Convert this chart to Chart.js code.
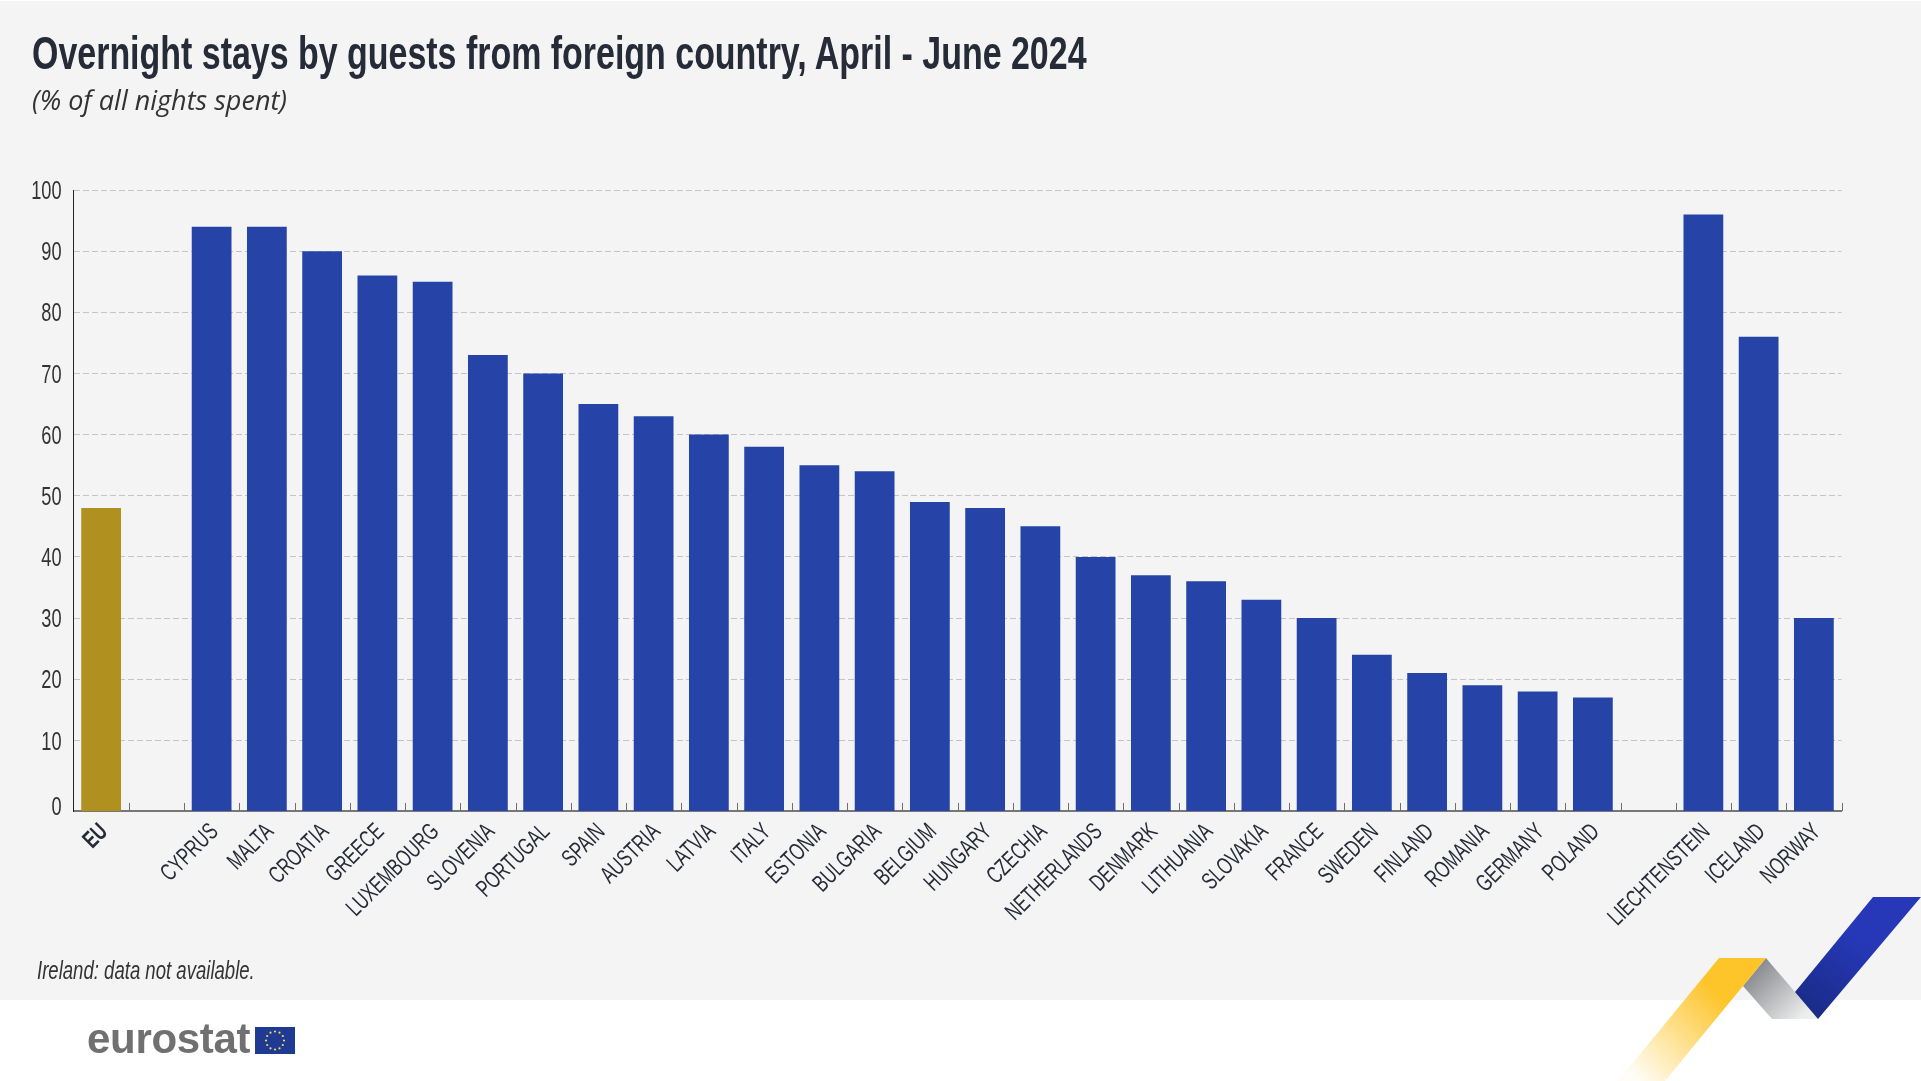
<!DOCTYPE html>
<html>
<head>
<meta charset="utf-8">
<title>Overnight stays by guests from foreign country</title>
<script src="https://cdn.jsdelivr.net/npm/chart.js@4"></script>
<style>
  html, body { margin: 0; padding: 0; background: #fff; }
  #page { position: relative; width: 1921px; height: 1081px; overflow: hidden; background: #fff; }
  #band { position: absolute; left: 0; top: 1px; width: 1921px; height: 999px; background: #f4f4f4; }
  #deco { position: absolute; left: 0; top: 0; }
  #chart { position: absolute; left: 0; top: 0; display: block; }
  .txt { position: absolute; white-space: nowrap; color: #262b38; transform-origin: left top; }
  #title { left: 32px; top: 26px; font: bold 46px "Liberation Sans", sans-serif; transform: scaleX(0.738); }
  #subtitle { left: 32px; top: 81px; font: italic 27px "Open Sans", sans-serif; color: #333; }
  #note { left: 37px; top: 955px; font: italic 26px "Liberation Sans", sans-serif; color: #333; transform: scaleX(0.714); }
  #logo { left: 87px; top: 1015px; font: bold 42px "Liberation Sans", sans-serif; color: #707070; letter-spacing: -0.3px; }
</style>
</head>
<body>
<div id="page">
  <div id="band"></div>
  <svg id="deco" width="1921" height="1081">
    <defs>
      <linearGradient id="gradYellow" x1="1750" y1="970" x2="1640" y2="1081" gradientUnits="userSpaceOnUse">
        <stop offset="0.25" stop-color="#fdc52a"/>
        <stop offset="1" stop-color="#fdc52a" stop-opacity="0.05"/>
      </linearGradient>
      <linearGradient id="gradGrey" x1="1750" y1="970" x2="1800" y2="1019" gradientUnits="userSpaceOnUse">
        <stop offset="0" stop-color="#85878c"/>
        <stop offset="1" stop-color="#eceded"/>
      </linearGradient>
      <linearGradient id="gradBlue" x1="1880" y1="900" x2="1800" y2="1019" gradientUnits="userSpaceOnUse">
        <stop offset="0.3" stop-color="#2638b8"/>
        <stop offset="1" stop-color="#182a80"/>
      </linearGradient>
    </defs>
    <polygon points="1766,958 1818,1019 1772,1019 1743,986" fill="url(#gradGrey)"/>
    <polygon points="1719,958 1766,958 1665,1081 1618,1081" fill="url(#gradYellow)"/>
    <polygon points="1873,897 1921,897 1818,1019 1795,992" fill="url(#gradBlue)"/>
    <rect x="255" y="1027" width="40" height="27" fill="#1f3a93"/>
    <g id="stars" fill="#f6d75c"></g>
  </svg>
  <canvas id="chart" width="1921" height="1081"></canvas>
  <div id="title" class="txt">Overnight stays by guests from foreign country, April - June 2024</div>
  <div id="subtitle" class="txt">(% of all nights spent)</div>
  <div id="note" class="txt">Ireland: data not available.</div>
  <div id="logo" class="txt">eurostat</div>
</div>
<script>
// Chart data
const categories = ['EU', '', 'CYPRUS', 'MALTA', 'CROATIA', 'GREECE', 'LUXEMBOURG', 'SLOVENIA', 'PORTUGAL', 'SPAIN',
  'AUSTRIA', 'LATVIA', 'ITALY', 'ESTONIA', 'BULGARIA', 'BELGIUM', 'HUNGARY', 'CZECHIA', 'NETHERLANDS', 'DENMARK',
  'LITHUANIA', 'SLOVAKIA', 'FRANCE', 'SWEDEN', 'FINLAND', 'ROMANIA', 'GERMANY', 'POLAND', '', 'LIECHTENSTEIN',
  'ICELAND', 'NORWAY'];
const overnightShare = [48, null, 94, 94, 90, 86, 85, 73, 70, 65,
  63, 60, 58, 55, 54, 49, 48, 45, 40, 37,
  36, 33, 30, 24, 21, 19, 18, 17, null, 96,
  76, 30];
const yTicks = [0, 10, 20, 30, 40, 50, 60, 70, 80, 90, 100];

const blue = '#2644a7';
const gold = '#b09120';
const labelFont = '"Liberation Sans", sans-serif';
const labelSqueeze = 0.7;  // no condensed font here, so axis text is narrowed by hand
const axisFloor = -1.55;   // the horizontal axis sits a little below the 0 value in the original

// EU flag stars in the logo
const starGroup = document.getElementById('stars');
for (let i = 0; i < 12; i++) {
  const a = i * Math.PI / 6;
  const dot = document.createElementNS('http://www.w3.org/2000/svg', 'circle');
  dot.setAttribute('cx', 275 + 9 * Math.cos(a));
  dot.setAttribute('cy', 1040.5 + 9 * Math.sin(a));
  dot.setAttribute('r', 1.1);
  starGroup.appendChild(dot);
}

// Narrow the tick labels while the library draws them
const condensedText = {
  id: 'condensedText',
  beforeDraw(chart) {
    const c = chart.ctx;
    if (c.plainFillText) return;
    c.plainFillText = c.fillText;
    c.fillText = function (text, x, y) {
      this.save();
      this.scale(labelSqueeze, 1);
      this.plainFillText(text, x / labelSqueeze, y);
      this.restore();
    };
  }
};

// Small tick marks stand up from the axis, between the categories
const upTicks = {
  id: 'upTicks',
  afterDatasetsDraw(chart) {
    const x = chart.scales.x;
    const c = chart.ctx;
    const bottom = chart.chartArea.bottom;
    const step = x.getPixelForValue(1) - x.getPixelForValue(0);
    c.save();
    c.strokeStyle = '#6e6e6e';
    c.lineWidth = 1;
    c.beginPath();
    for (let i = 1; i <= categories.length; i++) {
      const px = Math.round(x.getPixelForValue(i - 1) + step / 2) + 0.5;
      c.moveTo(px, bottom);
      c.lineTo(px, bottom - 8);
    }
    c.stroke();
    c.restore();
  }
};

new Chart(document.getElementById('chart'), {
  type: 'bar',
  data: {
    labels: categories,
    datasets: [{
      data: overnightShare,
      base: axisFloor,
      backgroundColor: categories.map(name => name === 'EU' ? gold : blue),
      categoryPercentage: 1,
      barPercentage: 0.72
    }]
  },
  options: {
    responsive: false,
    animation: false,
    devicePixelRatio: 1,
    layout: { padding: { top: 190, right: 79.5, left: 0, bottom: 0 } },
    plugins: { legend: { display: false }, tooltip: { enabled: false }, title: { display: false } },
    scales: {
      x: {
        afterFit(scale) { scale.height = 270; },
        border: { display: true, color: '#777', width: 2 },
        grid: { display: false },
        ticks: {
          autoSkip: false,
          maxRotation: 45,
          minRotation: 45,
          padding: -1,
          labelOffset: 3,
          color: '#262b38',
          font: ctx => ({
            family: labelFont,
            size: 24,
            weight: categories[ctx.index] === 'EU' ? 'bold' : 'normal'
          })
        }
      },
      y: {
        min: axisFloor,
        max: 100,
        afterFit(scale) { scale.width = 73.5; },
        // the 0 label rests just above the axis line and has no grid line of its own
        afterBuildTicks(scale) { scale.ticks = yTicks.map(value => ({ value: value === 0 ? -0.7 : value })); },
        border: { display: true, color: '#222', width: 1, dash: [6, 3] },
        grid: {
          color: ctx => ctx.tick && ctx.tick.value < 0 ? 'transparent' : '#c4c4c4',
          lineWidth: 1,
          drawTicks: false
        },
        ticks: {
          padding: 12,
          labelOffset: 2,
          color: '#333',
          font: { family: labelFont, size: 26 },
          callback: value => Math.max(value, 0)
        }
      }
    }
  },
  plugins: [condensedText, upTicks]
});
</script>
</body>
</html>
